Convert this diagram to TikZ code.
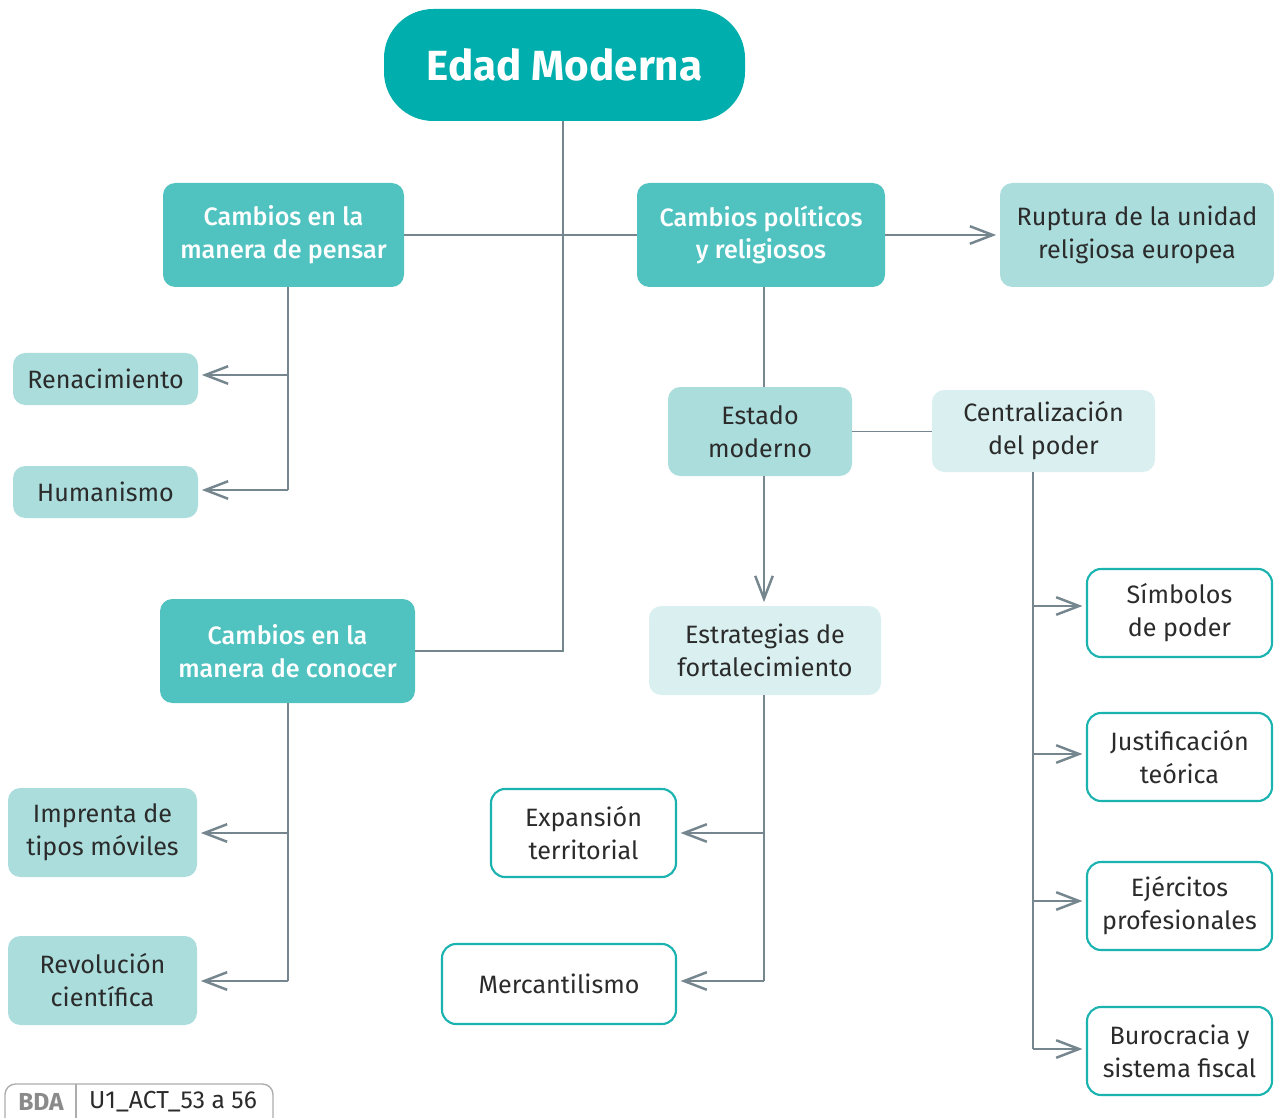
\documentclass[tikz,border=0pt]{standalone}
\usepackage{fontspec}
\setmainfont{Fira Sans}
\newfontfamily\medfont{Fira Sans Medium}
\usetikzlibrary{arrows.meta,calc}
\definecolor{cTitle}{HTML}{00AFAD}
\definecolor{cMed}{HTML}{50C3C1}
\definecolor{cLight}{HTML}{AADDDC}
\definecolor{cPale}{HTML}{DAF0F0}
\definecolor{cBorder}{HTML}{1BB3B0}
\definecolor{cLine}{HTML}{76868F}
\definecolor{cText}{HTML}{2B2B2B}
\definecolor{cBadge}{HTML}{8A8A8A}
\newcommand\bx[7]{\node[#6, minimum width={(#4-#2)*0.02cm}, minimum height={(#5-#3)*0.02cm}] (#1) at ({(#2+#4)/2},{(#3+#5)/2}) {#7};}
\begin{document}
\begin{tikzpicture}[x=0.02cm,y=-0.02cm,
  base/.style={inner sep=0pt, align=center, font=\fontsize{14.3}{18.7}\selectfont, text=cText},
  titlebox/.style={base, fill=cTitle, rounded corners=28pt, text=white, font=\fontsize{24}{28}\selectfont\bfseries},
  medbox/.style={base, fill=cMed, rounded corners=7pt, text=white, font=\fontsize{14.3}{18.7}\selectfont\medfont},
  lightbox/.style={base, fill=cLight, rounded corners=7pt},
  palebox/.style={base, fill=cPale, rounded corners=7pt},
  linebox/.style={base, fill=white, draw=cBorder, line width=1.2pt, rounded corners=8pt},
  conn/.style={draw=cLine, line width=1.1pt},
  arr/.style={conn, -{Straight Barb[length=13pt,width=10pt,line width=1.4pt]}, shorten >=2pt}
]
\clip (0,0) rectangle (1274,1118);
\useasboundingbox (0,0) rectangle (1274,1118);
\fill[white] (0,0) rectangle (1274,1118);

% nodes
\bx{title}{384}{9}{745}{121}{titlebox}{Edad Moderna}
\bx{pensar}{163}{183}{404}{287}{medbox}{Cambios en la\\manera de pensar}
\bx{politicos}{637}{183}{885}{287}{medbox}{Cambios políticos\\y religiosos}
\bx{ruptura}{1000}{183}{1274}{287}{lightbox}{Ruptura de la unidad\\religiosa europea}
\bx{renac}{13}{353}{198}{405}{lightbox}{Renacimiento}
\bx{human}{13}{466}{198}{518}{lightbox}{Humanismo}
\bx{estado}{668}{387}{852}{476}{lightbox}{Estado\\moderno}
\bx{central}{932}{390}{1155}{472}{palebox}{Centralización\\del poder}
\bx{conocer}{160}{599}{415}{703}{medbox}{Cambios en la\\manera de conocer}
\bx{estrat}{649}{606}{881}{695}{palebox}{Estrategias de\\fortalecimiento}
\bx{simbolos}{1087}{569}{1272}{657}{linebox}{Símbolos\\de poder}
\bx{justif}{1087}{713}{1272}{801}{linebox}{Justificación\\teórica}
\bx{ejerc}{1087}{862}{1272}{950}{linebox}{Ejércitos\\profesionales}
\bx{buro}{1087}{1007}{1272}{1095}{linebox}{Burocracia y\\sistema fiscal}
\bx{imprenta}{8}{788}{197}{877}{lightbox}{Imprenta de\\tipos móviles}
\bx{revol}{8}{936}{197}{1025}{lightbox}{Revolución\\científica}
\bx{expan}{491}{789}{676}{877}{linebox}{Expansión\\territorial}
\bx{merca}{442}{944}{676}{1024}{linebox}{Mercantilismo}

% connectors
\coordinate (mainturn) at (563,651);
\draw[conn] (title.south -| mainturn) -- (mainturn) -- (conocer.east |- mainturn);
\draw[conn] (pensar.east) -- (politicos.west);
\draw[arr] (politicos.east) -- (ruptura.west);

\coordinate (pbr1) at (288,375);
\coordinate (pbr2) at (288,490);
\draw[conn] (pensar.south -| pbr1) -- (pbr2);
\draw[arr] (pbr1) -- (renac.east |- pbr1);
\draw[arr] (pbr2) -- (human.east |- pbr2);

\coordinate (ebr1) at (764,833);
\coordinate (ebr2) at (764,981);
\draw[conn] (politicos.south -| ebr1) -- (estado.north -| ebr1);
\draw[conn] (estado.east) -- (estado.east -| central.west);
\draw[arr] (estado.south -| ebr1) -- (estrat.north -| ebr1);

\coordinate (cb) at (1033,472);
\coordinate (cbr1) at (1033,606);
\coordinate (cbr2) at (1033,754);
\coordinate (cbr3) at (1033,901);
\coordinate (cbr4) at (1033,1049);
\draw[conn] (central.south -| cb) -- (cbr4);
\draw[arr] (cbr1) -- (simbolos.west |- cbr1);
\draw[arr] (cbr2) -- (justif.west |- cbr2);
\draw[arr] (cbr3) -- (ejerc.west |- cbr3);
\draw[arr] (cbr4) -- (buro.west |- cbr4);

\coordinate (kbr1) at (288,833);
\coordinate (kbr2) at (288,981);
\draw[conn] (conocer.south -| kbr1) -- (kbr2);
\draw[arr] (kbr1) -- (imprenta.east |- kbr1);
\draw[arr] (kbr2) -- (revol.east |- kbr2);

\draw[conn] (estrat.south -| ebr1) -- (ebr2);
\draw[arr] (ebr1) -- (expan.east |- ebr1);
\draw[arr] (ebr2) -- (merca.east |- ebr2);

% badge
\draw[cBadge!70, line width=0.8pt, rounded corners=6pt] (5,1084) rectangle (273,1135);
\draw[cBadge!70, line width=0.8pt] (76,1084) -- (76,1118);
\node[font=\fontsize{14}{16}\selectfont\bfseries, text=cBadge, anchor=center] (bda) at (41,1102) {BDA};
\node[font=\fontsize{14}{16}\selectfont, text=cText, anchor=west] (code) at (83,1102) {U1\_ACT\_53 a 56};
\end{tikzpicture}
\end{document}
